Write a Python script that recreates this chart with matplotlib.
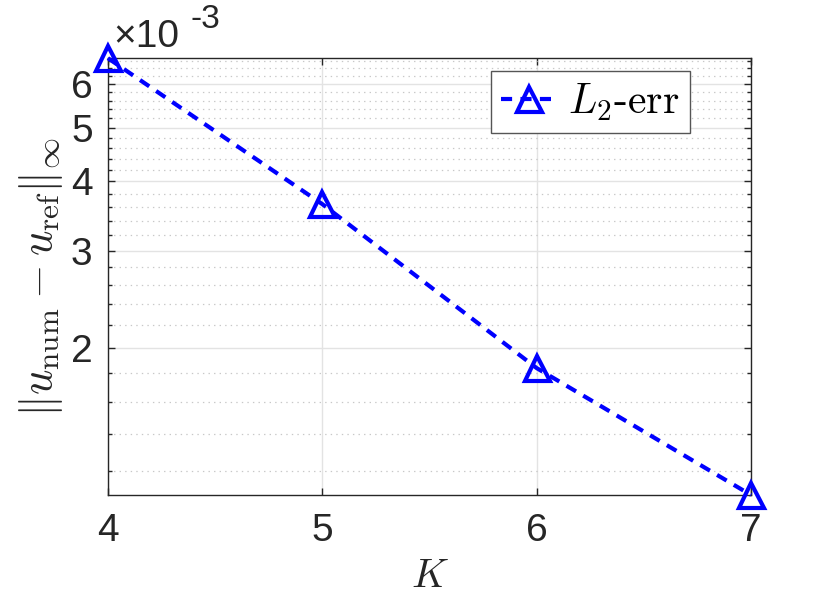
import numpy as np
import matplotlib
matplotlib.use('Agg')
import matplotlib.pyplot as plt
from matplotlib.ticker import FixedLocator, MultipleLocator, FuncFormatter, NullLocator

# data
K = [4, 5, 6, 7]
err = [6.68e-3, 3.64e-3, 1.84e-3, 1.085e-3]
x_ticks = [4, 5, 6, 7]
y_ticks = [2e-3, 3e-3, 4e-3, 5e-3, 6e-3]

plt.rcParams['font.family'] = ['Liberation Sans', 'DejaVu Sans']
plt.rcParams['mathtext.fontset'] = 'cm'
plt.rcParams['lines.scale_dashes'] = False

dark = '#262626'

fig = plt.figure(figsize=(8.30, 6.06), dpi=100)
ax = fig.add_axes([0.130, 0.183, 0.775, 0.721])

ax.plot(K, err, color='blue', lw=3.0, dashes=(8.0, 6.0),
        marker='^', ms=18, mew=3.0, mfc='none', mec='blue',
        label=r'$L_2$-err', clip_on=False, zorder=5)

ax.set_yscale('log')
ax.set_xlim(4, 7)
ax.set_ylim(min(err), max(err))

ax.xaxis.set_major_locator(FixedLocator(x_ticks))
ax.xaxis.set_minor_locator(NullLocator())
ax.yaxis.set_major_locator(FixedLocator(y_ticks))
ax.yaxis.set_minor_locator(MultipleLocator(0.2e-3))
ax.yaxis.set_major_formatter(FuncFormatter(lambda v, p: f'{v * 1e3:.0f}'))
ax.yaxis.set_minor_formatter(FuncFormatter(lambda v, p: ''))

# grid like MATLAB
ax.grid(True, which='major', color='#e3e3e3', lw=1.0, ls='-')
ax.grid(True, which='minor', axis='y', color='#c8c8c8', lw=0.9, ls=(0, (1, 3)))
ax.set_axisbelow(True)

ax.tick_params(which='both', direction='in', top=True, right=True,
               colors=dark, labelsize=28, width=1.0)
ax.tick_params(axis='x', pad=13)
ax.tick_params(axis='y', pad=11)
ax.tick_params(which='major', length=5)
ax.tick_params(which='minor', length=3)
for s in ax.spines.values():
    s.set_color(dark)
    s.set_linewidth(1.0)

ax.set_xlabel(r'$K$', fontsize=29, color=dark, labelpad=6)
ax.set_ylabel(r'$\|u_{\rm num}-u_{\rm ref}\|_\infty$', fontsize=32, color=dark, labelpad=4)

# exponent label
fig.text(0.136, 0.922, '×10', fontsize=28, color=dark, ha='left', va='baseline')
fig.text(0.229, 0.954, '-3', fontsize=24, color=dark, ha='left', va='baseline')

leg = ax.legend(loc='upper right', bbox_to_anchor=(0.905, 0.970), borderaxespad=0,
                fancybox=False, framealpha=1, edgecolor='#555555',
                prop={'family': 'cmr10', 'size': 30},
                handlelength=1.3, handletextpad=0.3, borderpad=0.25)
leg.get_frame().set_linewidth(1.0)

plt.savefig('out.png', dpi=100)
